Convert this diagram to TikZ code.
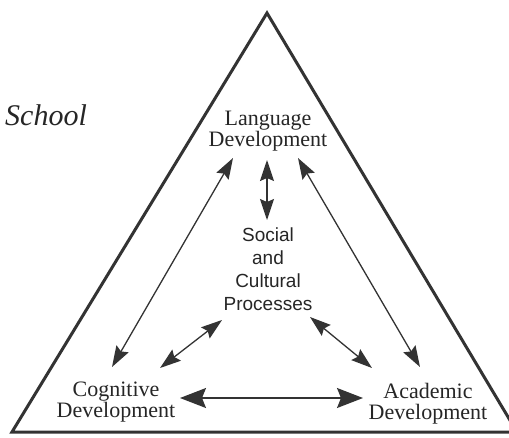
\documentclass[tikz,border=0pt]{standalone}
\usepackage{fontspec}
\setmainfont{Liberation Serif}
\newfontfamily\midfont{Liberation Sans}
\usetikzlibrary{arrows.meta}
\definecolor{ink}{HTML}{333333}
\definecolor{txt}{HTML}{262626}
\tikzset{
  lbl/.style={inner sep=0pt, align=center, text=txt, font=\fontsize{22}{21}\selectfont},
  midlbl/.style={inner sep=0pt, align=center, text=txt, font=\midfont\fontsize{19}{23}\selectfont},
  arr/.style={draw=ink, line width=1.3pt, {Stealth[length=21pt,width=14pt,inset=3pt]}-{Stealth[length=21pt,width=14pt,inset=3pt]}},
  bigarr/.style={draw=ink, line width=1.3pt, {Stealth[length=26pt,width=20pt,inset=4pt]}-{Stealth[length=26pt,width=20pt,inset=4pt]}},
  frame/.style={draw=ink, line width=3pt, line join=miter}
}
\begin{document}
\begin{tikzpicture}[x=1pt,y=-1pt]
\useasboundingbox (0,0) rectangle (509,437);
\fill[white] (0,0) rectangle (509,437);
\draw[frame] (12,432) -- (267,13) -- (517,432) -- cycle;

\node[inner sep=0pt, anchor=base west, text=txt, font=\itshape\fontsize{30}{30}\selectfont] (school) at (5,125) {School};

\node[lbl] (lang) at (268,131) {Language\\Development};
\node[midlbl] (soc) at (268,269) {Social\\and\\Cultural\\Processes};
\node[lbl] (cog) at (116,402) {Cognitive\\Development};
\node[lbl] (acad) at (428,404) {Academic\\Development};

\coordinate (lc1) at (233,158);
\coordinate (lc2) at (112,367);
\coordinate (la1) at (298,158);
\coordinate (la2) at (420,367);
\coordinate (ls1) at (267,160);
\coordinate (ls2) at (267,220);
\coordinate (sc1) at (222,320);
\coordinate (sc2) at (160,368);
\coordinate (sa1) at (310,317);
\coordinate (sa2) at (372,368);
\coordinate (ca1) at (180,398);
\coordinate (ca2) at (363,398);

\draw[arr] (lc1) -- (lc2);
\draw[arr] (la1) -- (la2);
\draw[arr] (ls1) -- (ls2);
\draw[arr] (sc1) -- (sc2);
\draw[arr] (sa1) -- (sa2);
\draw[bigarr] (ca1) -- (ca2);
\end{tikzpicture}
\end{document}
